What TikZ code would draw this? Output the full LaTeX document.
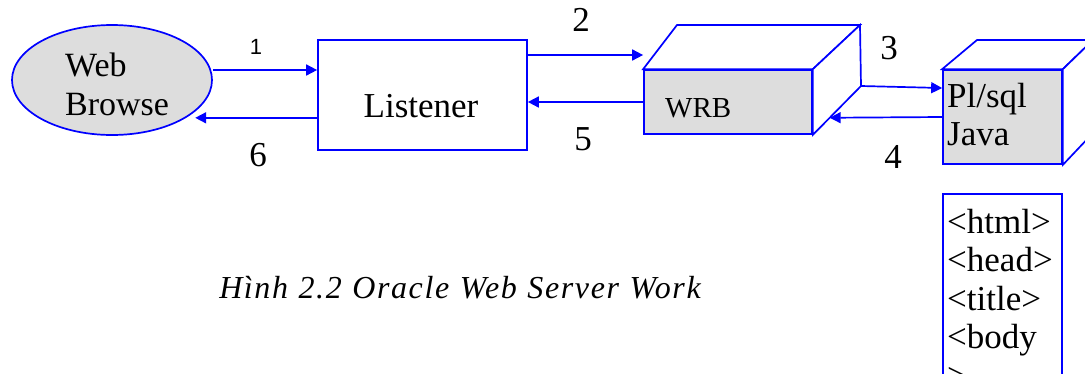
\documentclass[tikz,border=0pt]{standalone}
\usepackage{fontspec}
\setmainfont{Liberation Serif}
\newfontfamily\serifface{Liberation Serif}
\newfontfamily\numfont{Liberation Sans}
\newfontfamily\captionface[LetterSpace=5,WordSpace=1.1]{Liberation Serif}
\usetikzlibrary{arrows.meta,shapes.geometric,calc}
\definecolor{wblue}{RGB}{0,0,255}
\definecolor{boxgray}{RGB}{221,221,221}
\tikzset{
  edge/.style={draw=wblue, line width=1.7pt},
  face/.style={edge, fill=boxgray, inner sep=0pt},
  flow/.style={wblue, line width=1.7pt, -{Triangle[length=11pt,width=11pt]}},
  flownum/.style={font=\serifface\fontsize{35}{38}\selectfont, inner sep=0pt},
  word/.style={font=\serifface\fontsize{35}{38}\selectfont, inner sep=0pt, align=left},
}

\begin{document}
\begin{tikzpicture}[x=1pt, y=-1pt]
   \useasboundingbox (0,0) rectangle (1085,373);
   \clip (0,0) rectangle (1085,373);

   % browser and listener
   \node [face, ellipse, minimum width=200pt, minimum height=110pt] (browser) at (112,80) {};
   \node [word, anchor=north west, font=\serifface\fontsize{34}{39}\selectfont] (browsertext) at (65,53) {Web\\Browse};
   \node [edge, minimum width=209pt, minimum height=110pt] (listener) at (422.5,95) {};
   \node [word, anchor=base] (listenertext) at (421,117) {Listener};

   % WRB box
   \node [face, minimum width=168pt, minimum height=64pt] (wrb) at (728,102) {};
   \coordinate (wrbback) at (861,86);
   \draw [edge, fill=white] (wrb.north west) -- (677,25) -- (860,25) -- (wrb.north east) -- cycle;
   \draw [edge, fill=white] (wrb.north east) -- (860,25) -- (wrbback) -- (wrb.south east) -- cycle;
   \node [word, anchor=base west, font=\serifface\fontsize{29}{32}\selectfont] (wrbtext) at (665,117) {WRB};

   % Pl/sql box
   \node [face, minimum width=119pt, minimum height=94pt] (plsql) at (1002.5,117) {};
   \draw [edge, fill=white] (plsql.north west) -- (977,40) -- (1093,40) -- (plsql.north east) -- cycle;
   \draw [edge, fill=white] (plsql.north east) -- (1093,40) -- (1093,133) -- (plsql.south east) -- cycle;
   \node [word, anchor=north west] (plsqltext) at (947,83) {Pl/sql\\Java};

   % html page
   \node [edge, fill=white, anchor=north, minimum width=119pt, minimum height=230pt] (page) at (1002.5,193) {};
   \node [word, anchor=north west, font=\serifface\fontsize{35}{38.5}\selectfont] (pagetext) at (947,209) {<html>\\<head>\\<title>\\<body\\>};

   \draw [flow] ([yshift=10pt]browser.east) -- ([yshift=10pt]browser.east -| listener.west);
   \draw [flow, shorten >=9pt] (listener.west |- browser.-27) -- (browser.-27);
   \draw [flow] ([yshift=40pt]listener.east) -- ([yshift=40pt]listener.east -| wrb.west);
   \draw [flow] (wrb.west) -- (wrb.west -| listener.east);
   \draw [flow] (wrbback) -- ([yshift=29pt]plsql.west);
   \draw [flow] (plsql.west) -- ($(wrb.south east)!0.35!(wrbback)$);

   \node [flownum, font=\numfont\fontsize{22}{24}\selectfont] (n1) at (256,47) {1};
   \node [flownum] (n2) at (581,20) {2};
   \node [flownum] (n3) at (889,48) {3};
   \node [flownum] (n4) at (893,157) {4};
   \node [flownum] (n5) at (583,139) {5};
   \node [flownum] (n6) at (258,155) {6};

   \node [anchor=base, inner sep=0pt, font=\captionface\itshape\fontsize{32}{36}\selectfont] (caption) at (460,298) {Hình 2.2 Oracle Web Server Work};
\end{tikzpicture}
\end{document}
